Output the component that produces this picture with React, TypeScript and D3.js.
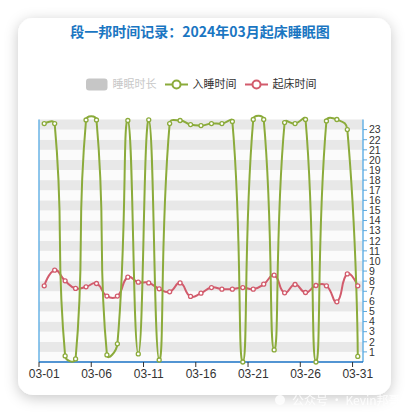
import React from "react";
import * as d3 from "d3";

const days = [
  "03-01","03-02","03-03","03-04","03-05","03-06","03-07","03-08","03-09","03-10",
  "03-11","03-12","03-13","03-14","03-15","03-16","03-17","03-18","03-19","03-20",
  "03-21","03-22","03-23","03-24","03-25","03-26","03-27","03-28","03-29","03-30","03-31",
];
const bedTime = [
  23.6, 23.6, 0.6, 0.3, 23.95, 23.95, 0.7, 1.8, 23.9, 0.8,
  23.97, 0.2, 23.6, 23.9, 23.5, 23.4, 23.6, 23.6, 23.8, 0.0,
  24.0, 24.0, 1.2, 23.7, 23.6, 24.0, 0.0, 23.85, 24.0, 23.0, 0.55,
];
const wakeTime = [
  7.54, 9.09, 8.03, 7.28, 7.44, 7.77, 6.52, 6.52, 8.4, 7.9,
  7.83, 7.24, 6.95, 7.83, 6.49, 6.81, 7.37, 7.21, 7.21, 7.37,
  7.21, 7.7, 8.59, 6.85, 7.67, 6.88, 7.57, 7.54, 5.96, 8.72, 7.54,
];
const yTicks = [1,2,3,4,5,6,7,8,9,10,11,12,13,14,15,16,17,18,19,20,21,22,23];
const xLabelDays = ["03-01","03-06","03-11","03-16","03-21","03-26","03-31"];
const legendItems = ["睡眠时长", "入睡时间", "起床时间"];
const title = "段一邦时间记录：2024年03月起床睡眠图";

const GREEN = "#8bab3b";
const RED = "#d25b6c";
const FONT = "'Liberation Sans', Arial, sans-serif";
const CJK = "'Noto Sans CJK SC', sans-serif";

// ECharts-like smoothing curve (smooth = 0.5)
function echartsCurve(context: any) {
  let pts: [number, number][] = [];
  return {
    areaStart() {},
    areaEnd() {},
    lineStart() { pts = []; },
    point(x: number, y: number) { pts.push([+x, +y]); },
    lineEnd() {
      const smooth = 0.5;
      let cpx0 = 0, cpy0 = 0, prevX = 0, prevY = 0;
      for (let i = 0; i < pts.length; i++) {
        const [x, y] = pts[i];
        if (i === 0) {
          context.moveTo(x, y);
          cpx0 = x; cpy0 = y;
        } else {
          let vx = 0, vy = 0, ratio = 0.5, cpx1: number, cpy1: number;
          if (i === pts.length - 1) {
            cpx1 = x; cpy1 = y;
          } else {
            const [nx, ny] = pts[i + 1];
            vx = nx - prevX; vy = ny - prevY;
            const l0 = Math.hypot(x - prevX, y - prevY);
            const l1 = Math.hypot(nx - x, ny - y);
            ratio = l1 / (l0 + l1);
            cpx1 = x - vx * smooth * (1 - ratio);
            cpy1 = y - vy * smooth * (1 - ratio);
          }
          context.bezierCurveTo(cpx0, cpy0, cpx1, cpy1, x, y);
          cpx0 = x + vx * smooth * ratio;
          cpy0 = y + vy * smooth * ratio;
        }
        prevX = x; prevY = y;
      }
    },
  };
}

export default function App() {
  const W = 409, H = 414;
  const left = 39, right = 363, top = 119.5, bottom = 362;
  const x = d3.scaleBand<string>().domain(days).range([left, right]).paddingInner(0).paddingOuter(0);
  const bw = x.bandwidth();
  const cx = (d: string) => (x(d) as number) + bw / 2;
  const y = d3.scaleLinear().domain([0, 24]).range([bottom, top]);

  const line = d3.line<number>().x((_, i) => cx(days[i])).y((v) => y(v)).curve(echartsCurve as any);

  const stripes = d3.range(0, 24);

  return (
    <svg width={W} height={H} style={{ position: "absolute", left: 0, top: 0 }}>
      <defs>
        <filter id="shadow" x="-20%" y="-20%" width="140%" height="140%">
          <feDropShadow dx="0" dy="3" stdDeviation="7" floodColor="#000" floodOpacity="0.22" />
        </filter>
      </defs>
      <rect x={0} y={0} width={W} height={H} fill="#ffffff" />
      <rect x={18} y={18} width={373} height={377} rx={15} fill="#ffffff" filter="url(#shadow)" />

      <text x={200} y={37} textAnchor="middle" fontFamily={CJK} fontWeight="bold" fontSize={14} fill="#1a76c2">
        {title}
      </text>

      {/* legend */}
      <g fontFamily={CJK} fontSize={11}>
        <rect x={86} y={78.5} width={21.5} height={12} rx={3} fill="#c6c6c6" />
        <text x={112.5} y={88} fill="#c8c8c8">{legendItems[0]}</text>
        <line x1={165} x2={188} y1={84.5} y2={84.5} stroke={GREEN} strokeWidth={2} />
        <circle cx={176.5} cy={84.5} r={4} fill="#fff" stroke={GREEN} strokeWidth={2} />
        <text x={192.5} y={88} fill="#333">{legendItems[1]}</text>
        <line x1={245} x2={268} y1={84.5} y2={84.5} stroke={RED} strokeWidth={2} />
        <circle cx={256.5} cy={84.5} r={4} fill="#fff" stroke={RED} strokeWidth={2} />
        <text x={272.5} y={88} fill="#333">{legendItems[2]}</text>
      </g>

      {/* split area */}
      {stripes.map((s) => (
        <rect key={s} x={left} width={right - left} y={y(s + 1)} height={y(s) - y(s + 1)}
          fill={s % 2 === 1 ? "#e8e8e8" : "#fbfbfb"} />
      ))}

      {/* axes */}
      <line x1={left} x2={left} y1={top} y2={bottom} stroke="#68b3e6" strokeWidth={1.5} />
      <line x1={right} x2={right} y1={top} y2={bottom} stroke="#68b3e6" strokeWidth={1.5} />
      {yTicks.map((t) => (
        <g key={t}>
          <line x1={right} x2={right + 4} y1={y(t)} y2={y(t)} stroke="#5aa8de" strokeWidth={1} />
          <text x={right + 6} y={y(t) + 3.8} fontFamily={FONT} fontSize={10.5} fill="#333">{t}</text>
        </g>
      ))}
      <line x1={left} x2={right} y1={bottom} y2={bottom} stroke="#1a72c4" strokeWidth={1.5} />
      {xLabelDays.map((d) => (
        <g key={d}>
          <line x1={x(d) as number} x2={x(d) as number} y1={bottom} y2={bottom + 5} stroke="#333" strokeWidth={1} />
          <text x={cx(d)} y={bottom + 16} textAnchor="middle" fontFamily={FONT} fontSize={12} fill="#333">{d}</text>
        </g>
      ))}

      {/* series */}
      <path d={line(wakeTime) || ""} fill="none" stroke={RED} strokeWidth={2} />
      <path d={line(bedTime) || ""} fill="none" stroke={GREEN} strokeWidth={2} />
      {wakeTime.map((v, i) => (
        <circle key={"w" + i} cx={cx(days[i])} cy={y(v)} r={2} fill="#fff" stroke={RED} strokeWidth={1.3} />
      ))}
      {bedTime.map((v, i) => (
        <circle key={"b" + i} cx={cx(days[i])} cy={y(v)} r={2} fill="#fff" stroke={GREEN} strokeWidth={1.3} />
      ))}

      {/* watermark */}
      <g opacity={0.85}>
        <circle cx={280} cy={400} r={5} fill="#fff" />
        <text x={292} y={404.5} fontFamily={CJK} fontSize={12} fill="#fff">公众号 · Kevin邦哥</text>
      </g>
    </svg>
  );
}
